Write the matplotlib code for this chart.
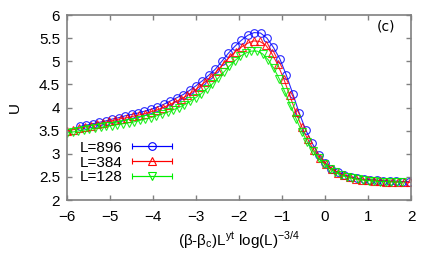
import numpy as np
import matplotlib
matplotlib.use("Agg")
import matplotlib.pyplot as plt
from matplotlib.container import ErrorbarContainer
from matplotlib.legend_handler import HandlerErrorbar

plt.rcParams['font.family'] = ['Liberation Sans', 'DejaVu Sans']

# L = 896
x896 = [-5.70, -5.55, -5.40, -5.25, -5.10, -4.95, -4.80, -4.65, -4.50, -4.35,
        -4.20, -4.05, -3.90, -3.75, -3.60, -3.45, -3.30, -3.15, -3.00, -2.85,
        -2.70, -2.55, -2.40, -2.25, -2.10, -1.95, -1.80, -1.65, -1.50, -1.35,
        -1.20, -1.05, -0.90, -0.75, -0.60, -0.45, -0.30, -0.15, 0.00, 0.15,
        0.30, 0.45, 0.60, 0.75, 0.90, 1.05, 1.20, 1.35, 1.50, 1.65, 1.80, 1.95]
u896 = [3.59, 3.62, 3.65, 3.68, 3.71, 3.75, 3.78, 3.82, 3.85, 3.88,
        3.92, 3.96, 4.01, 4.07, 4.14, 4.21, 4.28, 4.37, 4.47, 4.58,
        4.70, 4.83, 5.00, 5.17, 5.32, 5.45, 5.56, 5.62, 5.61, 5.50,
        5.30, 5.05, 4.70, 4.30, 3.88, 3.52, 3.23, 2.98, 2.81, 2.68,
        2.60, 2.54, 2.50, 2.47, 2.45, 2.44, 2.43, 2.42, 2.41, 2.41, 2.40, 2.40]

# L = 384
x384 = [-6.00, -5.86, -5.72, -5.58, -5.44, -5.30, -5.16, -5.02, -4.88, -4.74,
        -4.60, -4.46, -4.32, -4.18, -4.04, -3.90, -3.76, -3.62, -3.48, -3.34,
        -3.20, -3.06, -2.92, -2.78, -2.64, -2.50, -2.36, -2.22, -2.08, -1.94,
        -1.80, -1.66, -1.52, -1.38, -1.24, -1.10, -0.96, -0.82, -0.68, -0.54,
        -0.40, -0.26, -0.12, 0.02, 0.16, 0.30, 0.44, 0.58, 0.72, 0.86,
        1.00, 1.14, 1.28, 1.42, 1.56, 1.70, 1.84, 1.98]
u384 = [3.50, 3.52, 3.55, 3.58, 3.61, 3.64, 3.67, 3.70, 3.73, 3.76,
        3.78, 3.81, 3.84, 3.87, 3.91, 3.95, 4.00, 4.06, 4.12, 4.19,
        4.26, 4.35, 4.45, 4.56, 4.67, 4.80, 4.95, 5.09, 5.21, 5.31,
        5.39, 5.44, 5.43, 5.35, 5.17, 4.93, 4.62, 4.26, 3.90, 3.58,
        3.31, 3.08, 2.90, 2.77, 2.67, 2.59, 2.53, 2.49, 2.46, 2.44,
        2.43, 2.42, 2.41, 2.40, 2.40, 2.39, 2.39, 2.38]

# L = 128
x128 = [-6.00, -5.87, -5.74, -5.61, -5.48, -5.35, -5.22, -5.09, -4.96, -4.83,
        -4.70, -4.57, -4.44, -4.31, -4.18, -4.05, -3.92, -3.79, -3.66, -3.53,
        -3.40, -3.27, -3.14, -3.01, -2.88, -2.75, -2.62, -2.49, -2.36, -2.23,
        -2.10, -1.97, -1.84, -1.71, -1.58, -1.45, -1.32, -1.19, -1.06, -0.93,
        -0.80, -0.67, -0.54, -0.41, -0.28, -0.15, -0.02, 0.11, 0.24, 0.37,
        0.50, 0.63, 0.76, 0.89, 1.02, 1.15, 1.28, 1.41, 1.54, 1.67, 1.80]
u128 = [3.45, 3.47, 3.49, 3.51, 3.53, 3.55, 3.57, 3.59, 3.61, 3.63,
        3.65, 3.67, 3.69, 3.72, 3.75, 3.78, 3.82, 3.86, 3.90, 3.95,
        4.00, 4.06, 4.13, 4.21, 4.30, 4.40, 4.51, 4.63, 4.76, 4.89,
        5.01, 5.11, 5.18, 5.22, 5.22, 5.16, 5.03, 4.85, 4.61, 4.33,
        4.04, 3.75, 3.48, 3.25, 3.06, 2.90, 2.78, 2.68, 2.60, 2.54,
        2.50, 2.47, 2.45, 2.43, 2.42, 2.41, 2.40, 2.40, 2.39, 2.39, 2.38]

series = [
    ("L=896", x896, u896, "#0000ff", "o"),
    ("L=384", x384, u384, "#ff0000", "^"),
    ("L=128", x128, u128, "#00ee00", "v"),
]

fs = 11

fig = plt.figure(figsize=(4.36, 2.62), dpi=100)
ax = fig.add_axes([0.1537, 0.2366, 0.789, 0.7061])

handles = []
for label, xs, us, col, mk in series:
    ax.plot(xs, us, color=col, lw=0.8, marker=mk, ms=5.5, mfc="none",
            mew=0.8, alpha=0.85)
    # empty errorbar just for the gnuplot-style legend entry
    h = ax.errorbar([np.nan], [np.nan], xerr=[1], color=col, lw=0.8,
                    marker=mk, ms=5.5, mfc="none", mew=0.8, capsize=2.2,
                    label=label)
    handles.append(h)

ax.set_xlim(-6, 2)
ax.set_ylim(2, 6)
ax.set_xticks(range(-6, 3))
ax.set_yticks([2, 2.5, 3, 3.5, 4, 4.5, 5, 5.5, 6])
ax.set_yticklabels(["2", "2.5", "3", "3.5", "4", "4.5", "5", "5.5", "6"])

for sp in ax.spines.values():
    sp.set_color("#808080")
    sp.set_linewidth(1.2)
ax.tick_params(direction="in", top=True, right=True, length=3.6,
               width=1.0, color="#808080", labelsize=fs)
ax.tick_params(axis="y", pad=5)
ax.tick_params(axis="x", pad=7)

ax.set_xlabel(r"($\mathregular{\beta}$-$\mathregular{\beta_c}$)L$^{\mathregular{yt}}$ log(L)$^{\mathregular{-3/4}}$",
              fontsize=fs, labelpad=4)
ax.set_ylabel("U", fontsize=fs, labelpad=12)

ax.text(0.927, 0.94, "(c)", transform=ax.transAxes, ha="center", va="center",
        fontsize=fs - 1, family="DejaVu Sans")

hl = 2.6
ax.legend(handles=handles, loc="lower left", bbox_to_anchor=(0.038, 0.085),
          frameon=False, markerfirst=False, fontsize=fs, handlelength=hl,
          handletextpad=0.6, labelspacing=0.05, borderpad=0, borderaxespad=0,
          handler_map={ErrorbarContainer: HandlerErrorbar(xerr_size=hl / 2)})

fig.savefig("out.png", dpi=100)
